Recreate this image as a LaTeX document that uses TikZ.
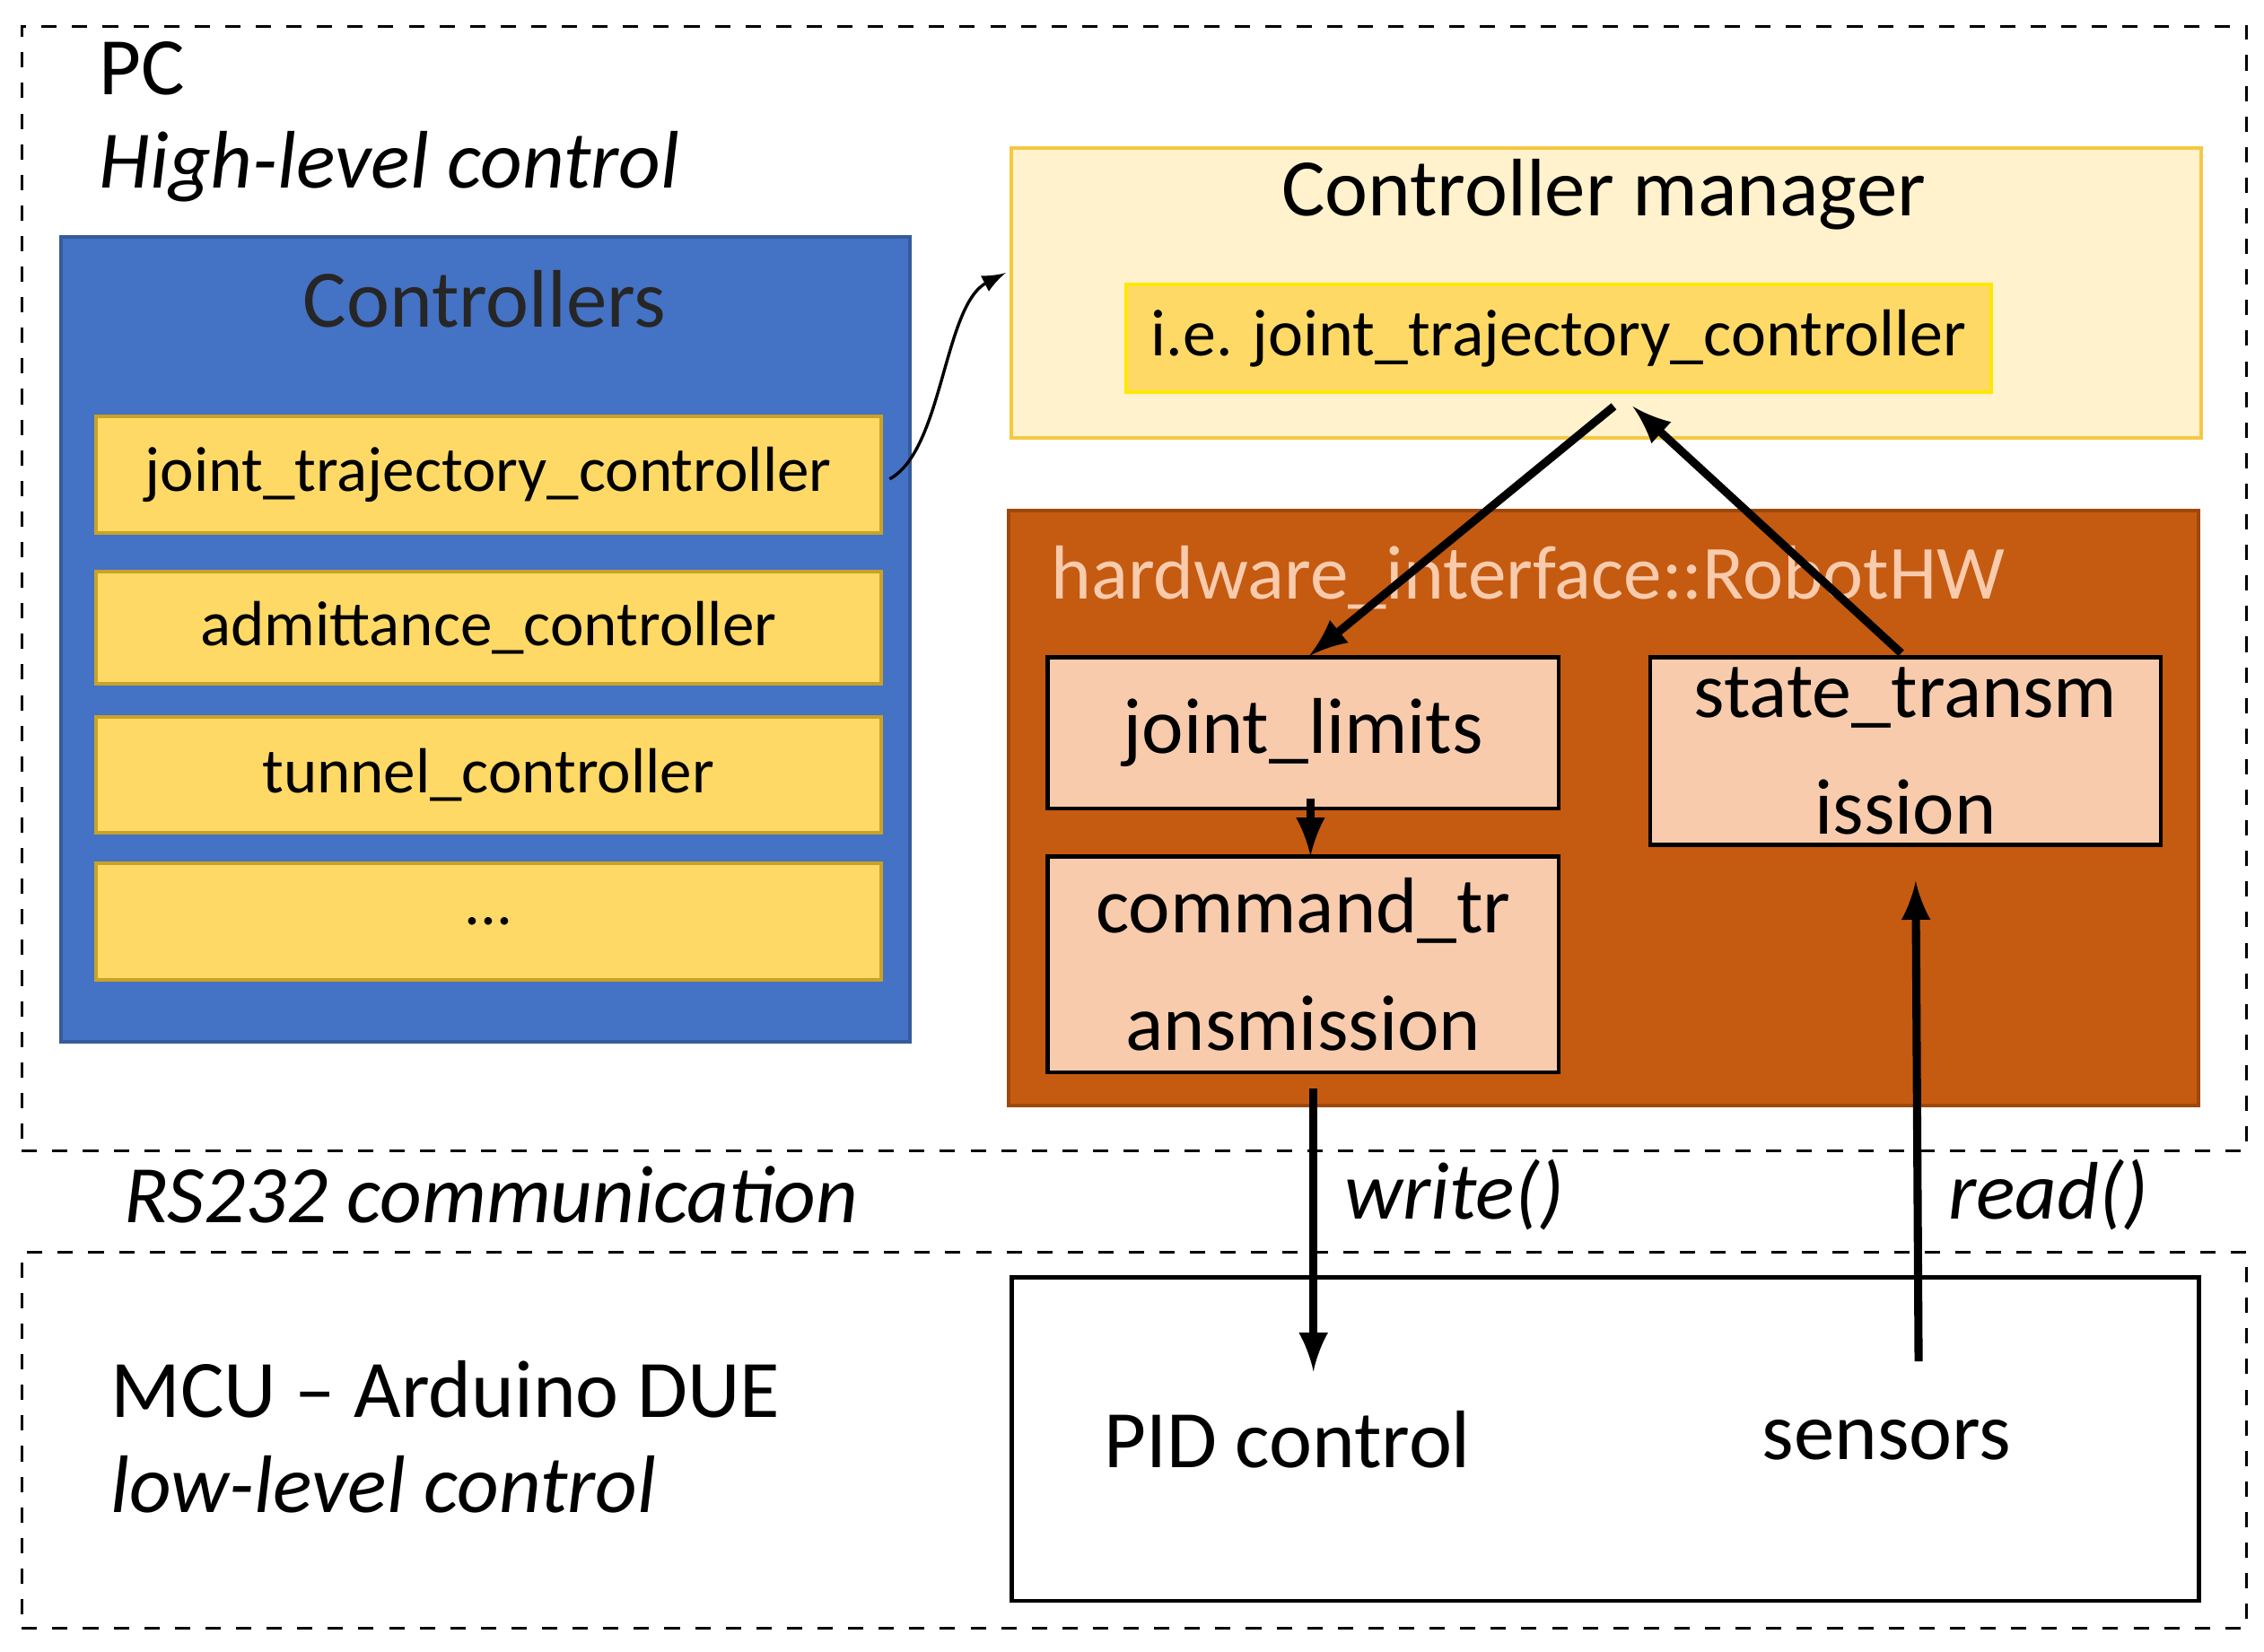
\documentclass[tikz,border=0pt]{standalone}
\usepackage{fontspec}
\setmainfont{Carlito}
\begin{document}
\begin{tikzpicture}[x=0.1mm,y=-0.1mm,
  box/.style={draw,rectangle,inner sep=0pt,line width=0.7pt},
  ctl/.style={box,fill=ctlY,draw=ctlB,minimum width=541*0.1mm,font=\fontsize{12.5}{14}\selectfont},
  hw/.style={box,fill=hwP,draw=black,line width=0.8pt,minimum width=352*0.1mm,align=center,font=\fontsize{15.5}{23}\selectfont},
  dashbox/.style={draw,dashed,line width=0.5pt},
  thick arr/.style={-latex,line width=1.6pt}]
\definecolor{ctlY}{HTML}{FFD966}
\definecolor{ctlB}{HTML}{C9A227}
\definecolor{blu}{HTML}{4472C4}
\definecolor{cmF}{HTML}{FFF2CC}
\definecolor{cmD}{HTML}{F5C842}
\definecolor{orng}{HTML}{C55A11}
\definecolor{hwP}{HTML}{F8CBAD}
\useasboundingbox (0,0) rectangle (1560,1138);
\node[box,dashbox,minimum width=153.3mm,minimum height=77.5mm] (pc) at (781.5,405.5) {};
\node[box,dashbox,minimum width=153.3mm,minimum height=25.9mm] (mcu) at (781.5,992.5) {};
\node[anchor=west,font=\fontsize{16}{18}\selectfont] (pct) at (56,47) {PC};
\node[anchor=west,font=\fontsize{16}{18}\selectfont\itshape] (hl) at (56,115) {High-level control};
\node[anchor=west,font=\fontsize{16}{18}\selectfont\itshape] (rs) at (73,823) {RS232 communication};
\node[anchor=west,font=\fontsize{16}{18}\selectfont] (mt) at (64,957) {MCU – Arduino DUE};
\node[anchor=west,font=\fontsize{16}{18}\selectfont\itshape] (ll) at (64,1023) {low-level control};
% controllers
\node[box,fill=blu,draw=blu!80!black,minimum width=58.5mm,minimum height=55.5mm] (ctls) at (334.5,440.5) {};
\node[font=\fontsize{16}{18}\selectfont,text=black!85] (ctlt) at (334,206) {Controllers};
\node[ctl,minimum height=8mm] (c1) at (336.5,327) {joint\_trajectory\_controller};
\node[ctl,minimum height=7.7mm] (c2) at (336.5,432.5) {admittance\_controller};
\node[ctl,minimum height=8mm] (c3) at (336.5,534) {tunnel\_controller};
\node[ctl,minimum height=8mm] (c4) at (336.5,635) {...};
% controller manager
\node[box,fill=cmF,draw=cmD,minimum width=82mm,minimum height=20mm] (cm) at (1107,202) {};
\node[font=\fontsize{16}{18}\selectfont] (cmt) at (1105,134) {Controller manager};
\node[box,fill=ctlY,draw=yellow!90!orange,minimum width=59.6mm,minimum height=7.4mm,font=\fontsize{13}{15}\selectfont] (ie) at (1074,233) {i.e. joint\_trajectory\_controller};
% robot hw
\node[box,fill=orng,draw=orng!80!black,minimum width=82mm,minimum height=41mm] (rhw) at (1105,557) {};
\node[anchor=west,text=hwP,font=\fontsize{15}{17}\selectfont] (rht) at (712,398) {hardware\_interface::RobotHW};
\node[hw,minimum height=10.4mm] (jl) at (898,505) {joint\_limits};
\node[hw,minimum height=14.9mm] (cmd) at (898,664.5) {command\_tr\\ansmission};
\node[hw,minimum height=12.9mm] (st) at (1313,517.5) {state\_transm\\ission};
% MCU box
\node[box,fill=white,minimum width=81.8mm,minimum height=22.3mm,line width=0.8pt] (mb) at (1106,991.5) {};
\node[font=\fontsize{16}{18}\selectfont] (pid) at (887,992) {PID control};
\node[font=\fontsize{16}{18}\selectfont] (sen) at (1300,992) {sensors};
\node[anchor=west,font=\fontsize{16}{18}\selectfont\itshape] (wr) at (914,823) {write()};
\node[anchor=west,font=\fontsize{16}{18}\selectfont\itshape] (rd) at (1330,823) {read()};
% connectors
\coordinate (a1) at (613,330);
\coordinate (a2) at (693,188);
\draw[-latex,line width=0.6pt] (a1) .. controls (650,310) and (650,210) .. (a2);
\coordinate (b1) at (1112,280);
\coordinate (b2) at (902,452);
\draw[thick arr] (b1) -- (b2);
\coordinate (c1a) at (1310,450);
\coordinate (c2a) at (1125,280);
\draw[thick arr] (c1a) -- (c2a);
\coordinate (d1) at (903,550);
\coordinate (d2) at (903,590);
\draw[thick arr] (d1) -- (d2);
\coordinate (w1) at (905,750);
\coordinate (w2) at (905,945);
\draw[thick arr] (w1) -- (w2);
\coordinate (r1) at (1322,938);
\coordinate (r2) at (1320,607);
\draw[thick arr] (r1) -- (r2);
\end{tikzpicture}
\end{document}
